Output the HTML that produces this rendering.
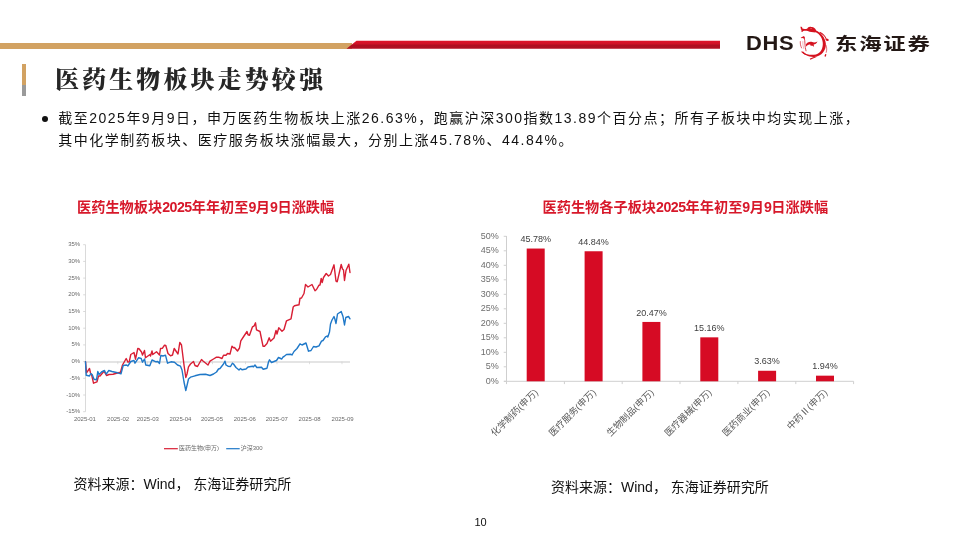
<!DOCTYPE html>
<html lang="zh-CN">
<head>
<meta charset="utf-8">
<title>医药生物板块走势较强</title>
<style>
  html, body { margin: 0; padding: 0; }
  body { width: 960px; height: 540px; background: #ffffff; position: relative; overflow: hidden;
         font-family: "Liberation Sans", "Noto Sans CJK SC", sans-serif; color: #1a1a1a; }
  .abs { position: absolute; white-space: nowrap; }
  #goldbar { left: 0; top: 43px; width: 352px; height: 5.7px; background: #d2a262; }
  #title { left: 55px; top: 62px; font-family: "Liberation Serif", "Noto Serif CJK SC", serif; font-weight: 900;
           font-size: 24px; letter-spacing: 3.1px; line-height: 36px; color: #262626; }
  #vbar1 { left: 22px; top: 64px; width: 4px; height: 22px; background: #d2a262; }
  #vbar2 { left: 22px; top: 85px; width: 4px; height: 10.5px; background: #9a9a9a; }
  .body { left: 58.3px; font-size: 14px; letter-spacing: 1.49px; line-height: 21.6px; color: #111; }
  #bullet { left: 42px; top: 116.2px; width: 6px; height: 6px; border-radius: 50%; background: #111; }
  .ctitle { font-weight: bold; font-size: 14.2px; color: #d7182a; line-height: 18px; }
  .ctitle i { font-style: normal; letter-spacing: -0.5px; }
  .src { font-size: 14px; line-height: 18px; color: #111; }
  #pnum { left: 474.5px; top: 515px; font-size: 11px; line-height: 14px; color: #111; }
  #dhs { left: 746.3px; top: 30.5px; font-weight: bold; font-size: 19.5px; line-height: 24px; color: #231815; letter-spacing: 0.6px; transform-origin: 0 50%; transform: scaleX(1.125); }
  #dhcn { left: 835.3px; top: 30.5px; font-family: "Liberation Sans", "Noto Sans CJK SC", sans-serif; font-weight: 700; font-size: 17.5px; line-height: 26px;
          color: #231815; letter-spacing: 1.35px; transform-origin: 0 50%; transform: scaleX(1.28); }
  svg { position: absolute; left: 0; top: 0; }
  svg text { font-family: "Liberation Sans", "Noto Sans CJK SC", sans-serif; }
</style>
</head>
<body>
<div id="goldbar" class="abs"></div>
<div id="vbar1" class="abs"></div>
<div id="vbar2" class="abs"></div>
<div id="title" class="abs">医药生物板块走势较强</div>
<div id="bullet" class="abs"></div>
<div class="abs body" style="top:108.4px;">截至2025年9月9日，申万医药生物板块上涨26.63%，跑赢沪深300指数13.89个百分点；所有子板块中均实现上涨，</div>
<div class="abs body" style="top:130.2px;">其中化学制药板块、医疗服务板块涨幅最大，分别上涨45.78%、44.84%。</div>
<div class="abs ctitle" id="ct1" style="left:77px; top:198px;">医药生物板块<i>2025</i>年年初至<i>9</i>月<i>9</i>日涨跌幅</div>
<div class="abs ctitle" id="ct2" style="left:542.5px; top:198px;">医药生物各子板块<i>2025</i>年年初至<i>9</i>月<i>9</i>日涨跌幅</div>
<div class="abs src" id="src1" style="left:73.5px; top:475px;">资料来源：Wind， 东海证券研究所</div>
<div class="abs src" id="src2" style="left:551px; top:477.5px;">资料来源：Wind， 东海证券研究所</div>
<div class="abs" id="pnum">10</div>
<div class="abs" id="dhs">DHS</div>
<div class="abs" id="dhcn">东海证券</div>

<svg id="deco" width="960" height="540" viewBox="0 0 960 540">
  <defs>
    <linearGradient id="rg" x1="0" y1="0" x2="0" y2="1">
      <stop offset="0" stop-color="#e0142a"/>
      <stop offset="0.45" stop-color="#cc1226"/>
      <stop offset="0.5" stop-color="#ad0f20"/>
      <stop offset="1" stop-color="#b31022"/>
    </linearGradient>
  </defs>
  <path d="M346.5,48.7 L356.5,40.8 L720,40.8 L720,48.7 Z" fill="url(#rg)"/>
  <g transform="translate(796,21.8) scale(0.074074,0.0755)" fill="#d5121f" stroke="none">
    <path d="M262,112 C330,135 395,205 403,290 C408,375 350,455 245,465 C170,468 105,435 68,393 C115,422 180,442 242,437 C318,432 360,372 362,298 C366,228 322,160 255,132 Z"/>
    <path d="M56,70 C72,62 88,72 86,90 C100,98 125,98 150,92 C160,72 185,58 205,70 C225,62 262,80 272,115 L262,142 C225,140 190,135 160,122 C135,118 112,118 98,122 C92,135 80,135 70,130 C78,118 75,105 62,95 C70,88 66,78 56,70 Z"/>
    <ellipse cx="203" cy="92" rx="9" ry="5" fill="#ffffff" fill-opacity="0.75"/>
    <path d="M322,132 C365,150 400,190 414,226 C426,222 440,230 445,243 C436,255 418,257 406,248 C398,238 396,228 398,220 C385,192 355,165 318,146 Z"/>
    <path d="M394,425 L411,432 L401,463 L384,456 Z"/>
    <path d="M185,490 C210,470 250,462 285,462 C255,476 220,486 195,502 Z"/>
    <path d="M68,398 L95,394 L137,430 L126,441 Z"/>
    <path d="M62,212 C80,200 95,195 105,188 C116,195 123,208 119,223 C105,218 85,222 62,212 Z"/>
    <path d="M132,305 C145,272 190,256 218,268 C242,278 266,272 290,260 C280,288 258,300 238,300 L244,330 L216,314 L200,322 L194,304 C175,296 155,306 140,328 Z"/>
    <g fill="none" stroke="#d5121f" stroke-linecap="round">
      <path d="M405,310 C418,340 418,380 408,405" stroke-width="8"/>
      <path d="M112,215 C126,260 114,320 135,385" stroke-width="10"/>
      <path d="M58,262 C55,290 62,320 75,346" stroke-width="9"/>
      <path d="M92,262 C90,295 96,330 106,356" stroke-width="4"/>
    </g>
  </g>
</svg>

<!-- BAR CHART -->
<svg id="barchart" width="960" height="540" viewBox="0 0 960 540">
<g stroke="#cfcfcf" stroke-width="1" fill="none">
<path d="M506.5,236.0 V381.3"/>
<path d="M504.0,381.3 H853.6"/>
<path d="M503.7,381.30 H506.5"/>
<path d="M503.7,366.80 H506.5"/>
<path d="M503.7,352.30 H506.5"/>
<path d="M503.7,337.80 H506.5"/>
<path d="M503.7,323.30 H506.5"/>
<path d="M503.7,308.80 H506.5"/>
<path d="M503.7,294.30 H506.5"/>
<path d="M503.7,279.80 H506.5"/>
<path d="M503.7,265.30 H506.5"/>
<path d="M503.7,250.80 H506.5"/>
<path d="M503.7,236.30 H506.5"/>
<path d="M506.5,381.3 V384.1"/>
<path d="M564.4,381.3 V384.1"/>
<path d="M622.2,381.3 V384.1"/>
<path d="M680.0,381.3 V384.1"/>
<path d="M737.9,381.3 V384.1"/>
<path d="M795.8,381.3 V384.1"/>
<path d="M853.6,381.3 V384.1"/>
</g>
<g fill="#d60b24">
<rect x="526.7" y="248.54" width="18" height="132.76"/>
<rect x="584.6" y="251.26" width="18" height="130.04"/>
<rect x="642.4" y="321.94" width="18" height="59.36"/>
<rect x="700.3" y="337.34" width="18" height="43.96"/>
<rect x="758.1" y="370.77" width="18" height="10.53"/>
<rect x="816.0" y="375.67" width="18" height="5.63"/>
</g>
<g font-size="9px" fill="#6e6e6e" text-anchor="end">
<text x="498.8" y="383.7">0%</text>
<text x="498.8" y="369.2">5%</text>
<text x="498.8" y="354.7">10%</text>
<text x="498.8" y="340.2">15%</text>
<text x="498.8" y="325.7">20%</text>
<text x="498.8" y="311.2">25%</text>
<text x="498.8" y="296.7">30%</text>
<text x="498.8" y="282.2">35%</text>
<text x="498.8" y="267.7">40%</text>
<text x="498.8" y="253.2">45%</text>
<text x="498.8" y="238.7">50%</text>
</g>
<g font-size="9px" fill="#404040" text-anchor="middle">
<text x="535.7" y="241.5">45.78%</text>
<text x="593.6" y="244.9">44.84%</text>
<text x="651.4" y="315.5">20.47%</text>
<text x="709.3" y="330.9">15.16%</text>
<text x="767.1" y="364.4">3.63%</text>
<text x="825.0" y="369.3">1.94%</text>
</g>
<g font-size="9.3px" fill="#595959" text-anchor="end">
<text transform="translate(538.7,393.0) rotate(-45)" x="0" y="0">化学制药(申万)</text>
<text transform="translate(596.6,393.0) rotate(-45)" x="0" y="0">医疗服务(申万)</text>
<text transform="translate(654.4,393.0) rotate(-45)" x="0" y="0">生物制品(申万)</text>
<text transform="translate(712.3,393.0) rotate(-45)" x="0" y="0">医疗器械(申万)</text>
<text transform="translate(770.1,393.0) rotate(-45)" x="0" y="0">医药商业(申万)</text>
<text transform="translate(828.0,393.0) rotate(-45)" x="0" y="0">中药Ⅱ(申万)</text>
</g>
</svg>

<!-- LINE CHART -->
<svg id="linechart" width="960" height="540" viewBox="0 0 960 540">
<g stroke="#d0d0d0" stroke-width="0.8" fill="none">
<path d="M85.5,244.7 V411.7"/>
<path d="M83.2,411.70 H85.5"/>
<path d="M83.2,395.00 H85.5"/>
<path d="M83.2,378.30 H85.5"/>
<path d="M83.2,361.60 H85.5"/>
<path d="M83.2,344.90 H85.5"/>
<path d="M83.2,328.20 H85.5"/>
<path d="M83.2,311.50 H85.5"/>
<path d="M83.2,294.80 H85.5"/>
<path d="M83.2,278.10 H85.5"/>
<path d="M83.2,261.40 H85.5"/>
<path d="M83.2,244.70 H85.5"/>
</g>
<path d="M85.5,361.95 H350" stroke="#e4e4e4" stroke-width="2" fill="none"/>
<g stroke="#d2d2d2" stroke-width="0.7" fill="none">
<path d="M117.8,361.6 V364.2"/>
<path d="M147.5,361.6 V364.2"/>
<path d="M180.5,361.6 V364.2"/>
<path d="M212.5,361.6 V364.2"/>
<path d="M245.5,361.6 V364.2"/>
<path d="M277,361.6 V364.2"/>
<path d="M309.5,361.6 V364.2"/>
<path d="M342,361.6 V364.2"/>
</g>
<g font-size="6px" fill="#6a6a6a" text-anchor="end">
<text x="80.2" y="413.2">-15%</text>
<text x="80.2" y="396.5">-10%</text>
<text x="80.2" y="379.8">-5%</text>
<text x="80.2" y="363.1">0%</text>
<text x="80.2" y="346.4">5%</text>
<text x="80.2" y="329.7">10%</text>
<text x="80.2" y="313.0">15%</text>
<text x="80.2" y="296.3">20%</text>
<text x="80.2" y="279.6">25%</text>
<text x="80.2" y="262.9">30%</text>
<text x="80.2" y="246.2">35%</text>
</g>
<g font-size="6px" fill="#6a6a6a" text-anchor="middle">
<text x="84.9" y="421.2">2025-01</text>
<text x="118.1" y="421.2">2025-02</text>
<text x="147.8" y="421.2">2025-03</text>
<text x="180.4" y="421.2">2025-04</text>
<text x="212.0" y="421.2">2025-05</text>
<text x="244.8" y="421.2">2025-06</text>
<text x="276.8" y="421.2">2025-07</text>
<text x="309.6" y="421.2">2025-08</text>
<text x="342.6" y="421.2">2025-09</text>
</g>
<path d="M85.5,361.8 L86.5,372.8 L89.5,368.5 L90.5,373.0 L91.8,375.5 L93.5,383.2 L97.0,381.8 L98.5,376.0 L100.0,376.0 L104.0,371.2 L106.5,375.5 L109.0,374.5 L113.0,374.2 L117.5,373.0 L120.5,372.2 L122.5,365.0 L126.2,358.5 L128.0,362.2 L129.2,361.8 L130.8,354.5 L134.0,352.5 L135.5,359.2 L137.8,348.5 L139.0,348.8 L141.5,352.0 L142.5,355.0 L144.5,350.5 L145.5,357.8 L150.0,354.5 L150.5,356.0 L152.0,351.0 L152.8,354.5 L156.5,351.8 L159.5,355.0 L160.5,348.5 L162.5,348.2 L164.5,345.2 L165.8,345.5 L168.0,353.5 L170.5,355.8 L172.5,355.0 L174.2,348.5 L178.0,354.0 L179.8,342.5 L181.5,345.0 L184.0,365.0 L185.8,377.5 L187.0,374.0 L188.5,366.8 L190.5,364.0 L193.5,361.5 L195.0,365.5 L197.5,366.5 L201.5,359.5 L203.0,361.0 L208.0,365.0 L210.0,361.2 L213.5,359.0 L216.5,357.2 L218.5,357.2 L222.0,358.5 L223.5,355.2 L226.0,355.2 L227.5,353.5 L230.0,354.0 L232.0,346.2 L233.5,347.8 L234.5,347.5 L237.5,351.0 L239.5,348.0 L240.8,340.8 L244.0,336.0 L247.0,331.5 L248.0,334.8 L249.5,335.2 L252.5,326.8 L254.2,325.8 L255.5,322.8 L256.5,329.8 L260.0,331.5 L263.0,346.2 L264.5,346.2 L267.0,343.5 L269.2,337.8 L270.5,341.2 L274.0,338.0 L276.0,330.5 L277.0,334.0 L278.8,327.8 L282.0,331.2 L284.0,329.5 L286.5,320.8 L291.0,318.8 L293.2,307.0 L294.5,305.8 L299.0,304.8 L300.0,298.2 L301.5,298.0 L304.0,293.5 L305.5,284.5 L308.0,287.0 L312.0,284.5 L315.0,290.8 L316.5,289.5 L319.0,285.2 L320.0,285.0 L321.2,278.5 L322.2,282.5 L323.5,277.5 L326.2,273.5 L328.5,276.0 L330.5,274.5 L334.0,264.8 L336.0,281.2 L337.2,281.8 L341.2,264.5 L342.5,269.0 L343.5,270.0 L344.5,280.5 L346.0,270.5 L348.8,264.2 L350.0,272.5" stroke="#d81e34" stroke-width="1.4" fill="none" stroke-linejoin="round" stroke-linecap="round"/>
<path d="M85.5,361.8 L86.2,375.2 L89.5,376.0 L90.8,373.5 L92.2,374.5 L94.0,379.2 L96.5,379.8 L97.8,371.5 L99.0,374.5 L101.5,372.0 L104.5,370.5 L106.2,374.2 L108.8,370.5 L112.0,371.5 L117.5,372.8 L121.0,373.8 L123.2,365.5 L126.5,365.0 L127.8,366.0 L130.8,361.5 L134.0,360.5 L135.0,363.2 L138.5,357.8 L141.2,358.5 L142.5,362.2 L144.5,359.0 L145.8,365.0 L149.8,365.8 L152.0,360.0 L156.0,361.8 L157.8,361.5 L159.5,363.5 L160.8,355.5 L163.0,356.0 L165.5,355.2 L167.5,363.2 L171.0,361.8 L174.5,362.2 L177.5,365.0 L180.5,366.2 L182.0,370.0 L184.0,382.0 L185.8,390.5 L187.0,385.5 L188.5,379.0 L190.5,377.2 L195.0,375.8 L200.0,374.5 L205.5,374.3 L210.0,375.5 L213.5,374.0 L216.5,372.0 L218.5,369.0 L220.0,368.5 L223.5,364.0 L225.0,361.2 L226.0,365.0 L228.0,366.2 L230.5,366.5 L232.5,363.2 L233.5,364.0 L236.0,367.5 L239.0,370.0 L240.5,368.5 L242.0,369.8 L246.0,369.0 L248.0,367.0 L252.5,366.2 L253.5,366.8 L255.0,365.0 L256.8,367.5 L261.5,367.2 L263.2,369.2 L267.0,368.2 L268.5,362.0 L269.5,359.8 L271.5,362.5 L276.5,360.5 L278.5,357.5 L281.8,359.0 L283.0,357.0 L284.0,356.5 L286.5,354.5 L291.0,354.3 L292.0,355.0 L294.0,351.5 L297.0,348.5 L300.0,343.8 L302.0,345.0 L306.0,343.0 L308.5,351.2 L311.0,350.5 L313.5,346.5 L316.0,347.0 L319.0,345.8 L321.5,341.2 L323.0,340.5 L325.5,336.8 L327.0,336.0 L327.8,337.0 L329.5,332.0 L330.5,324.0 L332.0,320.0 L334.0,316.5 L335.0,319.5 L336.0,323.5 L337.5,314.0 L341.2,311.5 L343.0,316.5 L344.5,325.0 L345.8,317.5 L348.5,316.5 L350.0,318.8" stroke="#1f78c8" stroke-width="1.4" fill="none" stroke-linejoin="round" stroke-linecap="round"/>
<path d="M164,448.7 H177.8" stroke="#d81e34" stroke-width="1.2" fill="none"/>
<path d="M226.2,448.7 H239.7" stroke="#1f78c8" stroke-width="1.2" fill="none"/>
<g font-size="6px" fill="#6a6a6a">
<text x="179" y="450.3">医药生物(申万)</text>
<text x="240.7" y="450.3">沪深300</text>
</g>
</svg>
</body>
</html>
